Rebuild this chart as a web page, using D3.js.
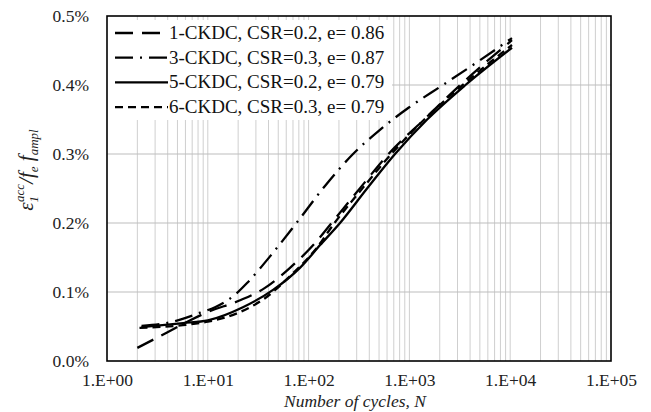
<!DOCTYPE html>
<html><head><meta charset="utf-8">
<script src="https://cdn.jsdelivr.net/npm/d3@7"></script>
<style>body{margin:0;background:#fff}svg{display:block}</style>
</head><body>
<svg id="c" width="651" height="412"></svg>
<script>
// ---- data ----
const xTickValues = [1, 10, 100, 1000, 10000, 100000];
const xTickLabels = ["1.E+00", "1.E+01", "1.E+02", "1.E+03", "1.E+04", "1.E+05"];
const yTickValues = [0, 0.1, 0.2, 0.3, 0.4, 0.5];
const yTickLabels = ["0.0%", "0.1%", "0.2%", "0.3%", "0.4%", "0.5%"];
const seriesNames = ["1-CKDC, CSR=0.2, e= 0.86", "3-CKDC, CSR=0.3, e= 0.87", "5-CKDC, CSR=0.2, e= 0.79", "6-CKDC, CSR=0.3, e= 0.79"];
// cycles N and strain (%) per series
const s1N = [2.0, 3.9, 6.7, 10, 20.9, 36.9, 65.4, 116, 171, 330, 620, 1400, 3300, 10420];
const s1V = [0.019, 0.041, 0.059, 0.071, 0.088, 0.106, 0.135, 0.171, 0.201, 0.252, 0.300, 0.350, 0.402, 0.465];
const s3N = [2.2, 4.5, 8.4, 11.8, 18.6, 24.5, 44.4, 76.7, 146, 276, 500, 980, 2150, 4800, 10420];
const s3V = [0.051, 0.057, 0.070, 0.078, 0.096, 0.113, 0.157, 0.201, 0.254, 0.300, 0.334, 0.367, 0.400, 0.434, 0.468];
const s5N = [2.2, 5.7, 10, 22.3, 44.4, 82, 130, 205, 380, 720, 1500, 3600, 10420];
const s5V = [0.049, 0.055, 0.059, 0.078, 0.103, 0.135, 0.168, 0.200, 0.250, 0.300, 0.350, 0.400, 0.454];
const s6N = [2.1, 5.66, 10, 20.9, 36.9, 65.4, 116, 183, 350, 680, 1450, 3500, 10420];
const s6V = [0.048, 0.052, 0.057, 0.071, 0.091, 0.123, 0.161, 0.201, 0.252, 0.302, 0.352, 0.402, 0.458];
const seriesN = [s1N, s3N, s5N, s6N];
const seriesV = [s1V, s3V, s5V, s6V];
const dashes = ["18,9", "18,7,2,7", null, "8,5"];

// ---- chart ----
const svg = d3.select("#c");
const L = 107, R = 611, T = 16, B = 361;
const x = d3.scaleLog().domain([1, 100000]).range([L, R]);
const y = d3.scaleLinear().domain([0, 0.5]).range([B, T]);
const serif = "'Liberation Serif', 'DejaVu Serif', serif";

// gridlines
const minor = [];
for (let d = 1; d < 100000; d *= 10) for (let k = 1; k <= 9; k++) if (d * k > 1) minor.push(d * k);
svg.append("g").selectAll("line").data(minor).join("line")
  .attr("x1", d => x(d)).attr("x2", d => x(d)).attr("y1", T).attr("y2", B)
  .attr("stroke", "#cfcfcf").attr("stroke-width", 1);
svg.append("g").selectAll("line").data(yTickValues.slice(1, 5)).join("line")
  .attr("x1", L).attr("x2", R).attr("y1", d => y(d)).attr("y2", d => y(d))
  .attr("stroke", "#bdbdbd").attr("stroke-width", 1.2);

// legend background
svg.append("rect").attr("x", L).attr("y", 20).attr("width", 392 - L).attr("height", 100).attr("fill", "#fff");

// axes labels
const xa = svg.append("g").attr("transform", `translate(0,${B})`)
  .call(d3.axisBottom(x).tickValues(xTickValues).tickFormat((d, i) => xTickLabels[i]).tickSize(0).tickPadding(13));
xa.select(".domain").remove();
xa.selectAll("text").attr("font-family", serif).attr("font-size", 17.5).attr("fill", "#222");
const ya = svg.append("g").attr("transform", `translate(${L},0)`)
  .call(d3.axisLeft(y).tickValues(yTickValues).tickFormat((d, i) => yTickLabels[i]).tickSize(0).tickPadding(18));
ya.select(".domain").remove();
ya.selectAll("text").attr("font-family", serif).attr("font-size", 17.5).attr("fill", "#222");

// series
const line = d3.line().x(d => x(d[0])).y(d => y(d[1])).curve(d3.curveMonotoneX);
seriesN.forEach((ns, i) => {
  const pts = ns.map((n, j) => [n, seriesV[i][j]]);
  svg.append("path").datum(pts).attr("d", line).attr("fill", "none")
    .attr("stroke", "#000").attr("stroke-width", 2.3)
    .attr("stroke-dasharray", dashes[i]);
});

// legend
const lg = svg.append("g");
seriesNames.forEach((nm, i) => {
  const yy = 33 + i * 24.7;
  lg.append("line").attr("x1", 115).attr("x2", 168).attr("y1", yy).attr("y2", yy)
    .attr("stroke", "#000").attr("stroke-width", 2.3).attr("stroke-dasharray", dashes[i]);
  lg.append("text").attr("x", 169).attr("y", yy + 6).text(nm)
    .attr("font-family", serif).attr("font-size", 19).attr("fill", "#111");
});

// plot border
svg.append("rect").attr("x", L).attr("y", T).attr("width", R - L).attr("height", B - T)
  .attr("fill", "none").attr("stroke", "#000").attr("stroke-width", 1.6);

// axis titles
svg.append("text").attr("x", (L + R) / 2 - 4).attr("y", 407).attr("text-anchor", "middle")
  .attr("font-family", serif).attr("font-style", "italic").attr("font-size", 17.5).attr("fill", "#222")
  .text("Number of cycles, N");
const yt = svg.append("text").attr("transform", "translate(33,170) rotate(-90)").attr("text-anchor", "middle")
  .attr("font-family", serif).attr("font-style", "italic").attr("font-size", 21).attr("fill", "#222");
yt.append("tspan").text("ε");
yt.append("tspan").attr("font-size", 13).attr("dy", 5).text("1");
yt.append("tspan").attr("font-size", 13).attr("dy", -14).attr("dx", -6).text("acc");
yt.append("tspan").attr("dy", 9).text("/");
yt.append("tspan").text("f");
yt.append("tspan").attr("font-size", 13).attr("dy", 5).text("e");
yt.append("tspan").attr("dy", -5).text(" f");
yt.append("tspan").attr("font-size", 13).attr("dy", 5).text("ampl");
</script>
</body></html>
